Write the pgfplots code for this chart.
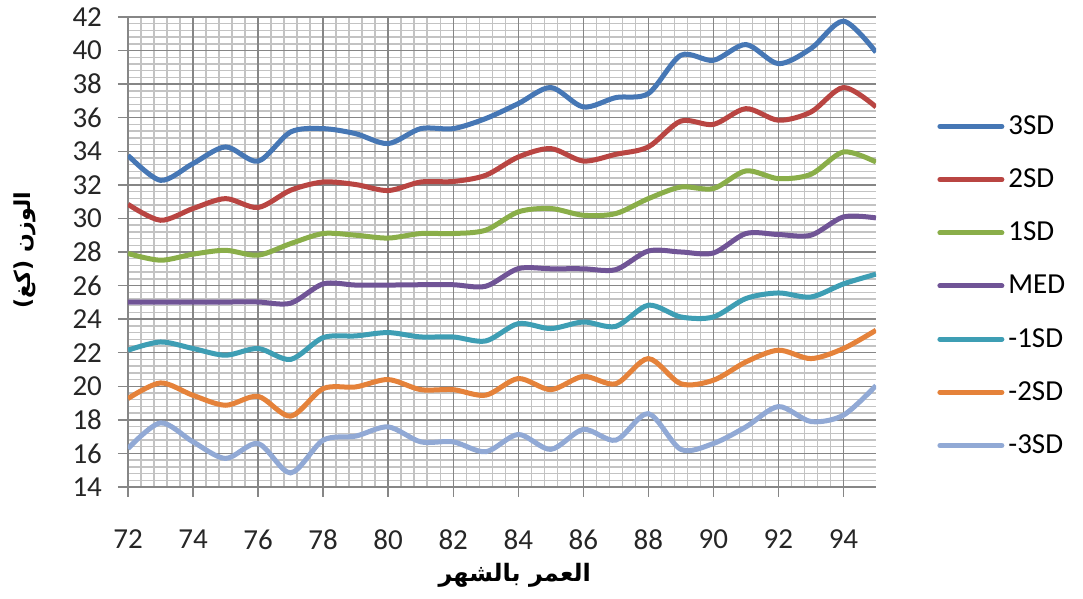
\documentclass[border=0pt]{standalone}
\usepackage{fontspec}
\setmainfont{Carlito}
\newfontfamily\arabicfont[Script=Arabic]{DejaVu Sans}
\TeXXeTstate=1
\usepackage{pgfplots}
\pgfplotsset{compat=1.18}
\definecolor{cA}{RGB}{70,119,181}
\definecolor{cB}{RGB}{185,69,66}
\definecolor{cC}{RGB}{138,174,73}
\definecolor{cD}{RGB}{112,84,150}
\definecolor{cE}{RGB}{62,158,180}
\definecolor{cF}{RGB}{229,130,58}
\definecolor{cG}{RGB}{145,169,213}
\definecolor{gmaj}{RGB}{134,134,134}
\definecolor{gmin}{RGB}{195,195,195}
\begin{document}
\begin{tikzpicture}
\begin{axis}[
  scale only axis, width=374pt, height=235pt,
  xmin=72, xmax=95, ymin=14, ymax=42,
  xtick={72,74,...,94}, ytick={14,16,...,42},
  minor x tick num=4, minor y tick num=4,
  grid=both,
  major grid style={draw=gmaj, line width=0.7pt},
  minor grid style={draw=gmin, line width=0.7pt},
  extra x ticks={72,74,...,94},
  extra x tick labels={},
  extra x tick style={grid=major, major grid style={draw=gmaj, line width=0.7pt}},
  axis lines*=left,
  axis line style={draw=gmaj, line width=0.7pt},
  tick align=outside, major tick length=5pt, minor tick length=0pt,
  tick style={draw=gmaj, line width=0.7pt},
  ticklabel style={font=\fontsize{14.5}{17}\selectfont, text=black!85},
  /pgf/number format/assume math mode=true,
  xticklabel style={yshift=-13pt},
  yticklabel style={xshift=-4.5pt},
  xlabel={\arabicfont\bfseries\fontsize{12}{14}\selectfont\beginR العمر بالشهر\endR},
  xlabel style={at={([yshift=-44pt]axis description cs:0.517,0)}, anchor=center},
  ylabel={\arabicfont\bfseries\fontsize{11}{13}\selectfont\beginR الوزن (كغ)\endR},
  ylabel style={at={([xshift=-51.5pt]axis description cs:0,0.504)}, anchor=center},
  legend style={draw=none, fill=none, at={(1,0.4277)}, anchor=west, xshift=30.5pt,
    font=\fontsize{14.5}{17}\selectfont, row sep=11.7pt, inner sep=0pt},
  legend cell align=left,
  legend image code/.code={\draw[#1, line cap=round] (0pt,0pt) -- (31pt,0pt);},
  every axis plot/.append style={line width=2.5pt, smooth},
]
\coordinate (SW) at (rel axis cs:0,0);
\coordinate (NE) at (rel axis cs:1,1);
\addplot[cA] coordinates {(72,33.76)(73,32.27)(74,33.27)(75,34.26)(76,33.41)(77,35.15)(78,35.35)(79,35.05)(80,34.46)(81,35.35)(82,35.35)(83,35.95)(84,36.84)(85,37.8)(86,36.64)(87,37.2)(88,37.44)(89,39.72)(90,39.42)(91,40.36)(92,39.22)(93,40.12)(94,41.75)(95,39.9)};
\addplot[cB] coordinates {(72,30.84)(73,29.89)(74,30.59)(75,31.18)(76,30.65)(77,31.68)(78,32.17)(79,32.02)(80,31.66)(81,32.17)(82,32.2)(83,32.57)(84,33.66)(85,34.16)(86,33.42)(87,33.82)(88,34.26)(89,35.8)(90,35.6)(91,36.54)(92,35.85)(93,36.34)(94,37.8)(95,36.64)};
\addplot[cC] coordinates {(72,27.91)(73,27.51)(74,27.87)(75,28.1)(76,27.81)(77,28.5)(78,29.1)(79,29.0)(80,28.83)(81,29.1)(82,29.1)(83,29.3)(84,30.39)(85,30.59)(86,30.19)(87,30.29)(88,31.18)(89,31.87)(90,31.78)(91,32.83)(92,32.37)(93,32.63)(94,33.96)(95,33.36)};
\addplot[cD] coordinates {(72,25.02)(73,25.02)(74,25.02)(75,25.02)(76,25.02)(77,24.95)(78,26.1)(79,26.03)(80,26.03)(81,26.05)(82,26.05)(83,25.96)(84,27.01)(85,27.0)(86,27.0)(87,26.95)(88,28.06)(89,28.0)(90,27.94)(91,29.1)(92,29.04)(93,29.0)(94,30.09)(95,30.03)};
\addplot[cE] coordinates {(72,22.15)(73,22.64)(74,22.25)(75,21.85)(76,22.25)(77,21.6)(78,22.9)(79,23.0)(80,23.2)(81,22.94)(82,22.94)(83,22.7)(84,23.73)(85,23.44)(86,23.83)(87,23.57)(88,24.83)(89,24.13)(90,24.13)(91,25.23)(92,25.56)(93,25.32)(94,26.1)(95,26.68)};
\addplot[cF] coordinates {(72,19.27)(73,20.2)(74,19.46)(75,18.87)(76,19.4)(77,18.22)(78,19.86)(79,19.96)(80,20.4)(81,19.8)(82,19.8)(83,19.47)(84,20.46)(85,19.8)(86,20.59)(87,20.15)(88,21.65)(89,20.15)(90,20.36)(91,21.45)(92,22.15)(93,21.65)(94,22.25)(95,23.34)};
\addplot[cG] coordinates {(72,16.29)(73,17.82)(74,16.69)(75,15.7)(76,16.59)(77,14.84)(78,16.79)(79,17.03)(80,17.58)(81,16.69)(82,16.69)(83,16.1)(84,17.13)(85,16.24)(86,17.43)(87,16.79)(88,18.37)(89,16.24)(90,16.59)(91,17.58)(92,18.79)(93,17.9)(94,18.28)(95,20.04)};
\legend{3SD,2SD,1SD,MED,-1SD,-2SD,-3SD}
\end{axis}
\pgfresetboundingbox
\path ([shift={(-64pt,-56pt)}]SW) rectangle ([shift={(103.5pt,8.5pt)}]NE);
\end{tikzpicture}
\end{document}
